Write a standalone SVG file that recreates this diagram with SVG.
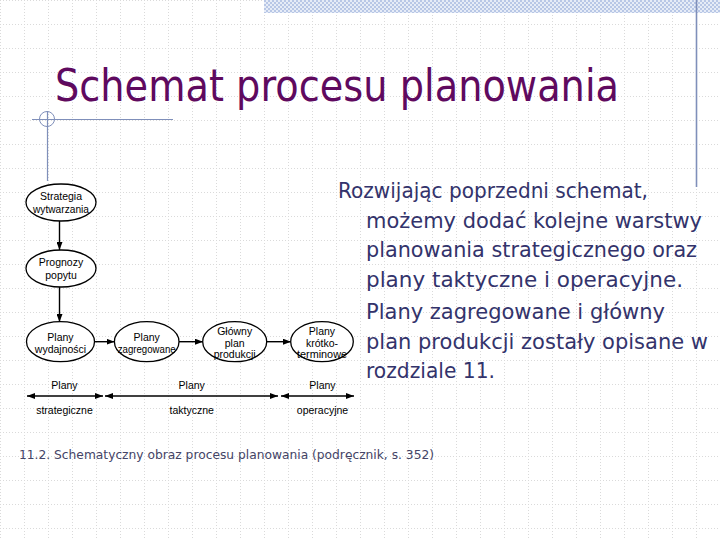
<svg xmlns="http://www.w3.org/2000/svg" width="720" height="540" viewBox="0 0 720 540">
<style>
.lbl{font-family:"Liberation Sans",Arial,sans-serif;font-size:10.5px;fill:#000;text-anchor:middle}
.node{fill:#fff;stroke:#000;stroke-width:1.3}
.con{stroke:#000;stroke-width:1.4;fill:none}
.body{font-family:"DejaVu Sans",Verdana,sans-serif;font-size:21.5px;fill:#33336b}
.deco{stroke:#7f8fba;fill:none}
</style>
<defs>
<pattern id="grid" width="24" height="24" patternUnits="userSpaceOnUse">
<path d="M0,0.5 H24 M0.5,0 V24" stroke="#dadada" stroke-width="1" stroke-dasharray="1,2" fill="none"/>
</pattern>
<pattern id="hatch" width="4" height="4" patternUnits="userSpaceOnUse">
<rect width="4" height="4" fill="#e6ecf7"/>
<rect width="2" height="2" fill="#b8c7e6"/>
<rect x="2" y="2" width="2" height="2" fill="#b8c7e6"/>
</pattern>
<marker id="ah" viewBox="0 0 8 6" refX="8" refY="3" markerWidth="8" markerHeight="6" markerUnits="userSpaceOnUse" orient="auto-start-reverse">
<path d="M0,0 L8,3 L0,6 z" fill="#000"/>
</marker>
</defs>
<rect width="720" height="540" fill="#fff"/>
<rect width="720" height="540" fill="url(#grid)"/>
<rect x="264" y="0" width="456" height="13" fill="url(#hatch)"/>
<line class="deco" x1="696.5" y1="0" x2="696.5" y2="187" stroke-width="1.6"/>
<line class="deco" x1="32" y1="119.5" x2="173" y2="119.5" stroke-width="1.2"/>
<line class="deco" x1="47.5" y1="111" x2="47.5" y2="181" stroke-width="1.2"/>
<circle class="deco" cx="47" cy="119" r="7.5" stroke-width="1"/>

<text x="55" y="101" font-family="DejaVu Sans, Verdana, sans-serif" font-size="45" fill="#5f0a5f" textLength="564" lengthAdjust="spacingAndGlyphs">Schemat procesu planowania</text>

<g id="body-text">
<text class="body" x="338" y="198" textLength="310" lengthAdjust="spacingAndGlyphs">Rozwijając poprzedni schemat,</text>
<text class="body" x="366" y="228" textLength="336" lengthAdjust="spacingAndGlyphs">możemy dodać kolejne warstwy</text>
<text class="body" x="366" y="257" textLength="331" lengthAdjust="spacingAndGlyphs">planowania strategicznego oraz</text>
<text class="body" x="366" y="287" textLength="317" lengthAdjust="spacingAndGlyphs">plany taktyczne i operacyjne.</text>
<text class="body" x="366" y="319" textLength="299" lengthAdjust="spacingAndGlyphs">Plany zagregowane i główny</text>
<text class="body" x="366" y="349" textLength="342" lengthAdjust="spacingAndGlyphs">plan produkcji zostały opisane w</text>
<text class="body" x="366" y="378" textLength="129" lengthAdjust="spacingAndGlyphs">rozdziale 11.</text>
</g>

<text x="19" y="459" font-family="DejaVu Sans, Verdana, sans-serif" font-size="13" fill="#444466" textLength="415" lengthAdjust="spacingAndGlyphs">11.2. Schematyczny obraz procesu planowania (podręcznik, s. 352)</text>

<g id="connectors">
<line class="con" x1="59.5" y1="221" x2="59.5" y2="250" marker-end="url(#ah)"/>
<line class="con" x1="59.5" y1="287" x2="59.5" y2="322" marker-end="url(#ah)"/>
<line class="con" x1="94.5" y1="341.7" x2="114.5" y2="341.7" marker-end="url(#ah)"/>
<line class="con" x1="179" y1="341.7" x2="203" y2="341.7" marker-end="url(#ah)"/>
<line class="con" x1="267" y1="341.7" x2="291" y2="341.7" marker-end="url(#ah)"/>
<line class="con" x1="27" y1="396" x2="103" y2="396" marker-start="url(#ah)" marker-end="url(#ah)"/>
<line class="con" x1="105" y1="396" x2="278" y2="396" marker-start="url(#ah)" marker-end="url(#ah)"/>
<line class="con" x1="281" y1="396" x2="354" y2="396" marker-start="url(#ah)" marker-end="url(#ah)"/>
</g>

<g id="strategia">
<ellipse class="node" cx="61" cy="202.5" rx="35" ry="18.5"/>
<text class="lbl" x="61" y="200">Strategia</text>
<text class="lbl" x="61" y="212.5" textLength="56" lengthAdjust="spacingAndGlyphs">wytwarzania</text>
</g>
<g id="prognozy">
<ellipse class="node" cx="61" cy="268.5" rx="35" ry="18.5"/>
<text class="lbl" x="61" y="266">Prognozy</text>
<text class="lbl" x="61" y="278.5">popytu</text>
</g>
<g id="wydajnosci">
<ellipse class="node" cx="60.5" cy="341.7" rx="34" ry="20"/>
<text class="lbl" x="60.5" y="341">Plany</text>
<text class="lbl" x="60.5" y="353">wydajności</text>
</g>
<g id="zagregowane">
<ellipse class="node" cx="146.7" cy="341.7" rx="32.3" ry="20"/>
<text class="lbl" x="146.7" y="341">Plany</text>
<text class="lbl" x="146.7" y="353" textLength="58" lengthAdjust="spacingAndGlyphs">zagregowane</text>
</g>
<g id="glowny">
<ellipse class="node" cx="234.7" cy="341.7" rx="32" ry="20"/>
<text class="lbl" x="234.7" y="335">Główny</text>
<text class="lbl" x="234.7" y="346.5">plan</text>
<text class="lbl" x="234.7" y="358">produkcji</text>
</g>
<g id="krotkoterminowe">
<ellipse class="node" cx="322" cy="341.7" rx="31.3" ry="20"/>
<text class="lbl" x="322" y="335">Plany</text>
<text class="lbl" x="322" y="346.5">krótko-</text>
<text class="lbl" x="322" y="357.5" textLength="50" lengthAdjust="spacingAndGlyphs">terminowe</text>
</g>

<g id="timeline-labels">
<text class="lbl" x="64.5" y="389">Plany</text>
<text class="lbl" x="64.5" y="414">strategiczne</text>
<text class="lbl" x="191.7" y="389">Plany</text>
<text class="lbl" x="191.7" y="414">taktyczne</text>
<text class="lbl" x="322.5" y="389">Plany</text>
<text class="lbl" x="322.5" y="414">operacyjne</text>
</g>
</svg>
